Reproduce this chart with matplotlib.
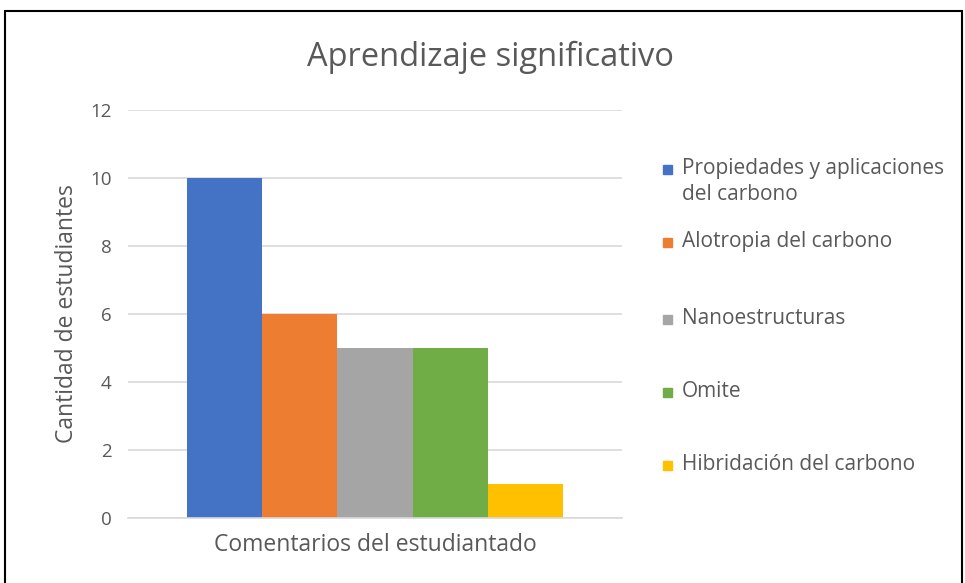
import matplotlib.pyplot as plt
from matplotlib.patches import Rectangle

categorias = ['Propiedades y aplicaciones\ndel carbono', 'Alotropia del carbono',
              'Nanoestructuras', 'Omite', 'Hibridación del carbono']
valores = [10, 6, 5, 5, 1]
colores = ['#4472C4', '#ED7D31', '#A5A5A5', '#70AD47', '#FFC000']
yticks = [0, 2, 4, 6, 8, 10, 12]

plt.rcParams['font.family'] = ['Open Sans', 'DejaVu Sans']
gris = '#595959'

fig = plt.figure(figsize=(9.65, 5.83), dpi=100)
W, H = 965, 583

# marco negro del grafico (el borde inferior queda fuera de la imagen)
fig.patches.append(Rectangle((5 / W, -0.02), (962 - 5) / W, (583 - 11) / H + 0.02,
                             transform=fig.transFigure, fill=False,
                             edgecolor='black', linewidth=1.5))

# eje: x 128-622 px, y 110-518 px
ax = fig.add_axes([128 / W, 1 - 518 / H, (622 - 128) / W, (518 - 110) / H])

posiciones = list(range(len(valores)))
ax.bar(posiciones, valores, width=1.0, color=colores)

ax.set_xlim(-1.285, 5.285)
ax.set_ylim(0, 12)
ax.set_yticks(yticks)
ax.set_xticks([])
ax.grid(True, axis='y', color='#D9D9D9', linewidth=1.2)
ax.set_axisbelow(True)
for s in ['top', 'right', 'left']:
    ax.spines[s].set_visible(False)
ax.spines['bottom'].set_color('#D9D9D9')
ax.spines['bottom'].set_linewidth(1.2)
ax.tick_params(axis='y', length=0, labelsize=13.5, labelcolor=gris, pad=12)

ax.set_ylabel('Cantidad de estudiantes', fontsize=16.5, color=gris, labelpad=8)
ax.set_xlabel('Comentarios del estudiantado', fontsize=16.5, color=gris, labelpad=11)

fig.text(490 / W, 1 - 57 / H, 'Aprendizaje significativo', fontsize=23.5,
         color=gris, ha='center', va='center')

# leyenda a la derecha
ys = [170, 243, 320, 393, 466]
for nombre, c, y in zip(categorias, colores, ys):
    fig.patches.append(Rectangle((663 / W, 1 - (y + 4) / H), 9 / W, 9 / H,
                                 transform=fig.transFigure, color=c))
    fig.text(682 / W, 1 - (y - 12) / H, nombre, fontsize=15, color=gris,
             ha='left', va='top', linespacing=1.3)

fig.savefig('out.png', dpi=100)
